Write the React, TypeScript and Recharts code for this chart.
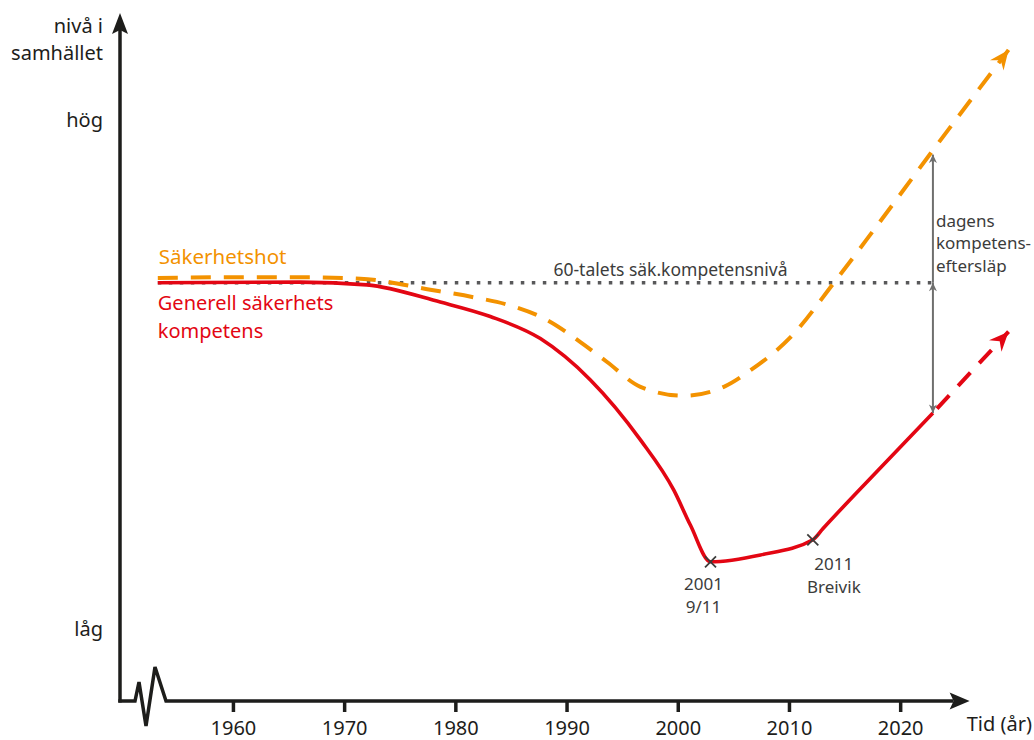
import React from "react"
import { ComposedChart, Line, XAxis, YAxis, ReferenceLine, ReferenceDot } from "recharts"

const FONT = "'Noto Sans', 'Open Sans', sans-serif"
const INK = "#1d1d1b"
const TEXT_GREY = "#3c3c3b"
const ARROW_GREY = "#6f6f6e"
const ORANGE = "#f39200"
const RED = "#e30613"

// axes
const yearTicks = [1960, 1970, 1980, 1990, 2000, 2010, 2020]
const levelTicks = [10.2, 84]
const levelTickLabels = ["låg", "hög"]
const yAxisTitle = ["nivå i", "samhället"]
const xAxisTitle = "Tid (år)"

// Säkerhetshot (dashed, orange)
const threatYears = [1953.2, 1960.4, 1966.0, 1971.4, 1977.7, 1981.6, 1984.7, 1988.2, 1991.2, 1993.6, 1996.6, 2000.5, 2004.1, 2006.5, 2010.1, 2014.0, 2017.6, 2022.7, 2029.7]
const threatLevels = [61.4, 61.5, 61.5, 61.3, 59.7, 58.6, 57.5, 55.3, 52.1, 49.2, 45.6, 44.3, 45.6, 48.0, 52.8, 60.7, 68.4, 79.5, 94.5]
const threatLabel = "Säkerhetshot"

// Generell säkerhetskompetens (solid, red) + projection (dashed)
const competenceYears = [1953.2, 1966.0, 1972.0, 1978.6, 1983.1, 1987.6, 1992.1, 1996.6, 1999.6, 2001.1, 2002.9, 2007.4, 2012.1, 2013.0, 2017.5, 2022.9]
const competenceLevels = [60.7, 60.8, 60.4, 57.9, 55.8, 52.6, 46.6, 37.9, 30.6, 25.5, 20.2, 21.2, 23.4, 25.0, 32.7, 41.8]
const projectionYears = [2022.9, 2029.7]
const projectionLevels = [41.8, 53.6]
const competenceLabel = ["Generell säkerhets", "kompetens"]

// 60-talets nivå + dagens eftersläp
const sixtiesYears = [1953.2, 2022.9]
const sixtiesLevel = 60.7
const sixtiesLabel = "60-talets säk.kompetensnivå"
const sixtiesLabelYear = 1999.3
const gapYear = 2022.9
const gapTop = 79.3
const gapBottom = 41.8
const gapLabel = ["dagens", "kompetens-", "eftersläp"]

// händelser
const eventYears = [2002.9, 2012.1]
const eventLevels = [20.2, 23.4]
const eventLabels = [["2001", "9/11"], ["2011", "Breivik"]]

const toRows = (xs: number[], ys: number[]) => xs.map((x, i) => ({ x, y: ys[i] }))
const threat = toRows(threatYears, threatLevels)
const competence = toRows(competenceYears, competenceLevels)
const projection = toRows(projectionYears, projectionLevels)
const sixties = sixtiesYears.map((x) => ({ x, y: sixtiesLevel }))
const gapUpper = [{ x: gapYear, y: sixtiesLevel }, { x: gapYear, y: gapTop }]
const gapLower = [{ x: gapYear, y: sixtiesLevel }, { x: gapYear, y: gapBottom }]

const X_MIN = 1949.8
const X_MAX = 2031
const X_ARROW = 2026.2

function YearTick({ x, y, payload }: any) {
  return (
    <g>
      <line x1={x} x2={x} y1={y} y2={y + 11} stroke={INK} strokeWidth={3.5} />
      <text x={x} y={y + 34} textAnchor="middle" fontFamily={FONT} fontSize={20} fill={INK}>
        {payload.value}
      </text>
    </g>
  )
}

function LevelTick({ x, y, payload }: any) {
  const i = levelTicks.indexOf(payload.value)
  return (
    <text x={x - 17} y={y + 5} textAnchor="end" fontFamily={FONT} fontSize={20} fill={INK}>
      {levelTickLabels[i]}
    </text>
  )
}

function YTitle({ viewBox }: any) {
  const right = viewBox.x + viewBox.width - 17
  return (
    <g fontFamily={FONT} fontSize={20} fill={INK} textAnchor="end">
      <text x={right} y={viewBox.y + 21}>{yAxisTitle[0]}</text>
      <text x={right} y={viewBox.y + 48}>{yAxisTitle[1]}</text>
    </g>
  )
}

function XTitle({ viewBox }: any) {
  return (
    <text x={viewBox.x + viewBox.width + 9} y={viewBox.y + 30} textAnchor="end" fontFamily={FONT} fontSize={20} fill={INK}>
      {xAxisTitle}
    </text>
  )
}

function YAxisArrow({ x1, y1, x2, y2 }: any) {
  return (
    <g>
      <line x1={x1} y1={y1 + 1.5} x2={x2} y2={y2 + 18} stroke={INK} strokeWidth={3.5} />
      <path d={`M${x2},${y2 + 1} L${x2 - 8},${y2 + 22} L${x2},${y2 + 18} L${x2 + 8},${y2 + 22} Z`} fill={INK} />
    </g>
  )
}

function XAxisArrow({ x1, y1, x2 }: any) {
  const y = y1
  const pts = [
    [x1 - 1.7, y],
    [x1 + 15, y],
    [x1 + 19, y - 19],
    [x1 + 26, y + 25],
    [x1 + 35, y - 34],
    [x1 + 46, y],
    [x2 - 16, y],
  ]
  return (
    <g>
      <polyline points={pts.map((p) => p.join(",")).join(" ")} fill="none" stroke={INK} strokeWidth={3.5} strokeLinejoin="miter" />
      <path d={`M${x2},${y} L${x2 - 20},${y - 8.5} L${x2 - 16},${y} L${x2 - 20},${y + 8.5} Z`} fill={INK} />
    </g>
  )
}

function EventMark({ cx, cy, index }: any) {
  const [top, bottom] = eventLabels[index]
  const dx = index === 0 ? -7 : 21
  const dy = index === 0 ? 28 : 30
  return (
    <g>
      <line x1={cx - 5.5} y1={cy - 5.5} x2={cx + 5.5} y2={cy + 5.5} stroke={TEXT_GREY} strokeWidth={1.8} />
      <line x1={cx - 5.5} y1={cy + 5.5} x2={cx + 5.5} y2={cy - 5.5} stroke={TEXT_GREY} strokeWidth={1.8} />
      <g fontFamily={FONT} fontSize={17} fill={TEXT_GREY} textAnchor="middle">
        <text x={cx + dx} y={cy + dy}>{top}</text>
        <text x={cx + dx} y={cy + dy + 23}>{bottom}</text>
      </g>
    </g>
  )
}

export default function App() {
  return (
    <div style={{ position: "absolute", left: 0, top: 0, background: "#fff" }}>
      <ComposedChart width={1034} height={740} margin={{ top: 12, right: 11, bottom: 9, left: 0 }}>
        <defs>
          <marker id="headOrange" markerUnits="userSpaceOnUse" markerWidth={22} markerHeight={18} refX={20} refY={9} orient="auto" overflow="visible">
            <path d="M20,9 L0.5,0.5 L7,9 L0.5,17.5 Z" fill={ORANGE} />
          </marker>
          <marker id="headRed" markerUnits="userSpaceOnUse" markerWidth={22} markerHeight={18} refX={20} refY={9} orient="auto" overflow="visible">
            <path d="M20,9 L0.5,0.5 L7,9 L0.5,17.5 Z" fill={RED} />
          </marker>
          <marker id="headGrey" markerUnits="userSpaceOnUse" markerWidth={10} markerHeight={10} refX={9} refY={5} orient="auto-start-reverse" overflow="visible">
            <path d="M9,5 L0.5,1 L3,5 L0.5,9 Z" fill={ARROW_GREY} />
          </marker>
        </defs>

        <XAxis
          type="number"
          dataKey="x"
          domain={[X_MIN, X_MAX]}
          ticks={yearTicks}
          interval={0}
          axisLine={false}
          tickLine={false}
          tickSize={0}
          tickMargin={0}
          height={30}
          tick={<YearTick />}
          label={(props: any) => <XTitle {...props} />}
        />
        <YAxis
          type="number"
          dataKey="y"
          domain={[0, 100]}
          ticks={levelTicks}
          interval={0}
          axisLine={false}
          tickLine={false}
          tickSize={0}
          tickMargin={0}
          width={120}
          tick={<LevelTick />}
          label={(props: any) => <YTitle {...props} />}
        />

        <ReferenceLine segment={[{ x: X_MIN, y: 0 }, { x: X_MIN, y: 100 }]} shape={(p: any) => <YAxisArrow {...p} />} ifOverflow="visible" />
        <ReferenceLine segment={[{ x: X_MIN, y: 0 }, { x: X_ARROW, y: 0 }]} shape={(p: any) => <XAxisArrow {...p} />} ifOverflow="visible" />

        <Line data={sixties} dataKey="y" type="linear" stroke="#58585a" strokeWidth={3.5} strokeDasharray="3.5 7.5" dot={false} activeDot={false} isAnimationActive={false} />
        <Line data={threat} dataKey="y" type="monotone" stroke={ORANGE} strokeWidth={4} strokeDasharray="20 13" dot={false} activeDot={false} isAnimationActive={false} markerEnd="url(#headOrange)" />
        <Line data={competence} dataKey="y" type="monotone" stroke={RED} strokeWidth={3.6} dot={false} activeDot={false} isAnimationActive={false} />
        <Line data={projection} dataKey="y" type="linear" stroke={RED} strokeWidth={4} strokeDasharray="18 13" strokeDashoffset={-6} dot={false} activeDot={false} isAnimationActive={false} markerEnd="url(#headRed)" />
        <Line data={gapUpper} dataKey="y" type="linear" stroke={ARROW_GREY} strokeWidth={2} dot={false} activeDot={false} isAnimationActive={false} markerEnd="url(#headGrey)" />
        <Line data={gapLower} dataKey="y" type="linear" stroke={ARROW_GREY} strokeWidth={2} dot={false} activeDot={false} isAnimationActive={false} markerStart="url(#headGrey)" markerEnd="url(#headGrey)" />

        {eventYears.map((yr, i) => (
          <ReferenceDot key={yr} x={yr} y={eventLevels[i]} r={0} ifOverflow="visible" shape={(p: any) => <EventMark {...p} index={i} />} />
        ))}

        <ReferenceDot
          x={threatYears[0]}
          y={threatLevels[0]}
          r={0}
          ifOverflow="visible"
          shape={(p: any) => (
            <text x={p.cx + 1} y={p.cy - 14} fontFamily={FONT} fontSize={20.5} fill={ORANGE}>{threatLabel}</text>
          )}
        />
        <ReferenceDot
          x={competenceYears[0]}
          y={competenceLevels[0]}
          r={0}
          ifOverflow="visible"
          shape={(p: any) => (
            <g fontFamily={FONT} fontSize={20} fill={RED}>
              <text x={p.cx} y={p.cy + 27}>{competenceLabel[0]}</text>
              <text x={p.cx} y={p.cy + 55}>{competenceLabel[1]}</text>
            </g>
          )}
        />
        <ReferenceDot
          x={sixtiesLabelYear}
          y={sixtiesLevel}
          r={0}
          ifOverflow="visible"
          shape={(p: any) => (
            <text x={p.cx} y={p.cy - 7} textAnchor="middle" fontFamily={FONT} fontSize={17.5} fill={TEXT_GREY}>{sixtiesLabel}</text>
          )}
        />
        <ReferenceDot
          x={gapYear}
          y={sixtiesLevel}
          r={0}
          ifOverflow="visible"
          shape={(p: any) => (
            <g fontFamily={FONT} fontSize={17} fill={TEXT_GREY}>
              {gapLabel.map((t, i) => (
                <text key={t} x={p.cx + 3} y={p.cy - 56 + i * 22.5}>{t}</text>
              ))}
            </g>
          )}
        />
      </ComposedChart>
    </div>
  )
}
